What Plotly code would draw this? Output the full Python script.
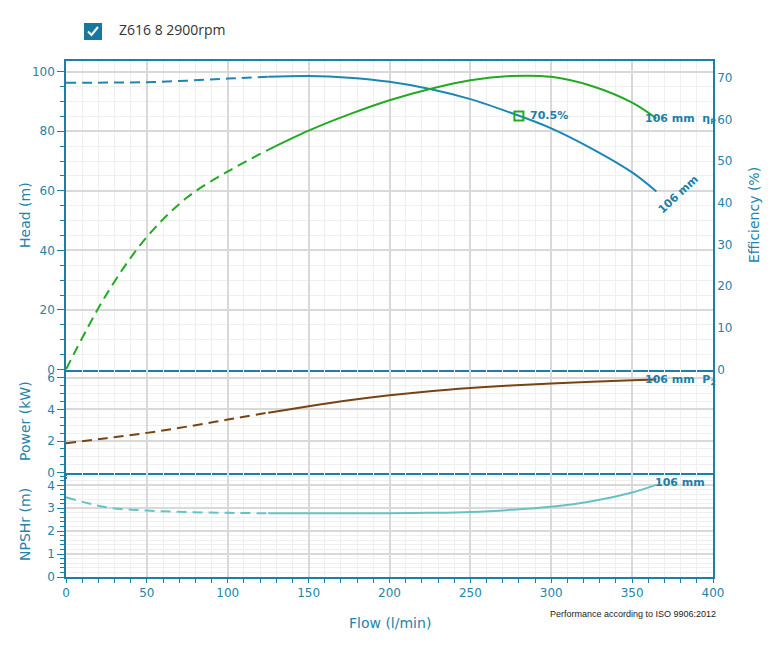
import plotly.graph_objects as go

# ---------------- data ----------------
flow = [0, 25, 50, 75, 100, 125, 150, 175, 200, 225, 250, 275, 300, 325, 350, 365]
head = [96.3, 96.35, 96.5, 97.0, 97.7, 98.3, 98.55, 98.0, 96.6, 94.2, 90.8, 86.2, 81.0, 74.2, 66.2, 59.8]
eff = [0, 18.0, 31.8, 41.3, 47.5, 52.7, 57.3, 61.2, 64.6, 67.3, 69.4, 70.4, 70.2, 68.0, 64.0, 60.2]
power = [1.86, 2.18, 2.52, 2.92, 3.36, 3.80, 4.21, 4.58, 4.90, 5.16, 5.36, 5.52, 5.65, 5.76, 5.85, 5.9]
npsh = [3.48, 3.04, 2.90, 2.83, 2.80, 2.78, 2.78, 2.78, 2.78, 2.80, 2.84, 2.93, 3.06, 3.30, 3.69, 4.02]
split_flow = 125          # end of dashed (extrapolated) region
bep_flow = [280]
bep_head = [85.1]
bep_label = "70.5%"
curve_label = "106 mm"
pump_name = "Z616 8 2900rpm"
x_ticks = [0, 50, 100, 150, 200, 250, 300, 350, 400]

# ---------------- geometry (page pixels; body has 8px default margin) ----------------
OFF = 8
W, H = 758, 636
ML = 66 - OFF
MT = 61 - OFF
MR = W - (713 - OFF)
MB = H - (577 - OFF)
PW, PH = W - ML - MR, H - MT - MB
AX = "#1b7fa6"
TXT = "#2483aa"
GRID = "#d9d9d9"
MGRID = "#efefef"
C_HEAD = "#1c87b5"
C_EFF = "#22aa22"
C_POW = "#7a4312"
C_NPSH = "#66c2c4"
FONT = "DejaVu Sans"
DASH = "10px,6px"


def px(xp):
    return (xp - OFF - ML) / PW


def py(yp):
    return (H - MB - (yp - OFF)) / PH


d_np = [0, py(472.7)]
d_pw = [py(472.7), py(369.5)]
d_hd = [py(369.5), 1]

i_s = flow.index(split_flow)
fig = go.Figure()


def add_curve(y, color, xa, ya):
    fig.add_trace(go.Scatter(x=flow[:i_s + 1], y=y[:i_s + 1], mode="lines",
                             line=dict(color=color, width=2, dash=DASH, shape="spline", smoothing=1),
                             xaxis=xa, yaxis=ya, showlegend=False, hoverinfo="skip"))
    fig.add_trace(go.Scatter(x=flow[i_s:], y=y[i_s:], mode="lines",
                             line=dict(color=color, width=2, shape="spline", smoothing=1),
                             xaxis=xa, yaxis=ya, showlegend=False))


add_curve(head, C_HEAD, "x", "y")
add_curve(eff, C_EFF, "x", "y4")
add_curve(power, C_POW, "x2", "y2")
add_curve(npsh, C_NPSH, "x3", "y3")

fig.add_trace(go.Scatter(x=bep_flow, y=bep_head, mode="markers",
                         marker=dict(symbol="square-open", size=9, color=C_EFF,
                                     line=dict(width=2, color=C_EFF)),
                         xaxis="x", yaxis="y", showlegend=False))

tickfont = dict(family=FONT, size=12, color=TXT)


def xax(anchor, labels):
    return dict(anchor=anchor, domain=[0, 1], range=[0, 400], tickvals=x_ticks,
                showticklabels=labels, tickfont=tickfont,
                ticks="outside", ticklen=4, tickcolor=AX, tickwidth=1,
                showgrid=True, gridcolor=GRID, gridwidth=2,
                minor=dict(dtick=10, showgrid=True, gridcolor=MGRID, gridwidth=1,
                           ticks="outside", ticklen=4, tickcolor=AX),
                showline=True, linecolor=AX, linewidth=2, zeroline=False, fixedrange=True)


def yax(domain, rng, dtick, mdtick, anchor):
    return dict(anchor=anchor, domain=domain, range=rng, dtick=dtick, tick0=0,
                tickfont=tickfont, ticks="outside", ticklen=7, tickcolor=AX,
                showgrid=True, gridcolor=GRID, gridwidth=2,
                minor=dict(dtick=mdtick, showgrid=True, gridcolor=MGRID, gridwidth=1,
                           ticks="outside", ticklen=4, tickcolor=AX),
                showline=True, linecolor=AX, linewidth=1.5, mirror=True,
                zeroline=False, fixedrange=True)


top_x = xax("y", False)
top_x["ticks"] = ""
top_x["minor"]["ticks"] = ""
top_x["mirror"] = True

fig.update_layout(
    width=W, height=H,
    margin=dict(l=ML, r=MR, t=MT, b=MB),
    paper_bgcolor="white", plot_bgcolor="white",
    font=dict(family=FONT, color=TXT),
    xaxis=top_x,
    xaxis2=xax("y2", False),
    xaxis3=xax("y3", True),
    yaxis=yax(d_hd, [0, 103.6], 20, 5, "x"),
    yaxis2=yax(d_pw, [0, 6.53], 2, 0.5, "x2"),
    yaxis3=yax(d_np, [0, 4.55], 1, 0.2, "x3"),
    yaxis4=dict(overlaying="y", side="right", anchor="x", range=[0, 74], dtick=10, tick0=0,
                tickfont=tickfont, ticks="", showgrid=False, showline=True,
                linecolor=AX, linewidth=1.5, zeroline=False, fixedrange=True),
)

# ---------------- texts ----------------
ann = []
tfont = dict(family=FONT, size=14, color=TXT)
ann.append(dict(text="Head (m)", x=px(25), y=py(215), textangle=-90, font=tfont))
ann.append(dict(text="Power (kW)", x=px(25), y=py(421), textangle=-90, font=tfont))
ann.append(dict(text="NPSHr (m)", x=px(25), y=py(525), textangle=-90, font=tfont))
ann.append(dict(text="Efficiency (%)", x=px(754), y=py(215), textangle=-90, font=tfont))
ann.append(dict(text="Flow (l/min)", x=px(389.5), y=py(623), font=tfont))
ann.append(dict(text="Performance according to ISO 9906:2012", x=px(718), y=py(614),
                xanchor="right", font=dict(family="Liberation Sans", size=9, color="#222222")))
bfont = dict(family=FONT, size=11, color=AX)
ann.append(dict(text="<b>" + bep_label + "</b>", x=px(528), y=py(116), xanchor="left", font=bfont))
ann.append(dict(text="<b>" + curve_label + "  η<sub>P</sub></b>", x=px(643), y=py(119),
                xanchor="left", font=bfont))
ann.append(dict(text="<b>" + curve_label + "</b>", x=px(678), y=py(194), textangle=-43, font=bfont))
ann.append(dict(text="<b>" + curve_label + "  P<sub>2</sub></b>", x=px(643), y=py(380),
                xanchor="left", font=bfont))
ann.append(dict(text="<b>" + curve_label + "</b>", x=px(653), y=py(482), xanchor="left", font=bfont))
ann.append(dict(text=pump_name, x=px(117), y=py(30), xanchor="left",
                font=dict(family="Open Sans", size=14, color="#333333")))
for a in ann:
    a.update(xref="paper", yref="paper", showarrow=False)
    a.setdefault("xanchor", "center")
    a.setdefault("yanchor", "middle")
fig.update_layout(annotations=ann)

# checkbox
fig.add_shape(type="rect", xref="paper", yref="paper",
              x0=px(84), x1=px(102), y0=py(40), y1=py(23),
              fillcolor="#16789e", line=dict(width=0))
fig.add_shape(type="path", xref="paper", yref="paper",
              path=f"M {px(88)} {py(31.5)} L {px(91.5)} {py(35)} L {px(98)} {py(27)}",
              line=dict(color="white", width=2))

fig.write_html("out.html")
